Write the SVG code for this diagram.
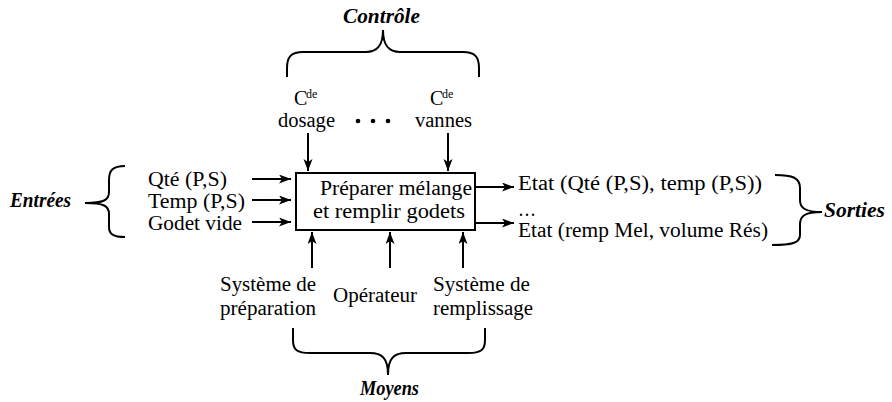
<svg xmlns="http://www.w3.org/2000/svg" width="892" height="402" viewBox="0 0 892 402">
  <defs>
    <style>
      text { font-size: 20px; fill: #000; }
      .lbl { font-weight: bold; font-style: italic; }
      .sup { font-size: 12px; }
      .ln { fill: none; stroke: #000; stroke-width: 2; }
      .arr { fill: none; stroke: #000; stroke-width: 2; marker-end: url(#ah); }
      .box { fill: #fff; stroke: #000; stroke-width: 2; }
    </style>
    <marker id="ah" markerUnits="userSpaceOnUse" markerWidth="13" markerHeight="10" refX="12" refY="4.5" orient="auto">
      <path d="M0,0 L12,4.5 L0,9 L3,4.5 z" fill="#000"/>
    </marker>
  </defs>
  <rect width="892" height="402" fill="#fff"/>
  <g font-family="Liberation Serif, Times New Roman, Times, serif">

  <g id="connectors">
    <line class="arr" x1="308" y1="133" x2="308" y2="171"/>
    <line class="arr" x1="448" y1="133" x2="448" y2="171"/>
    <line class="arr" x1="252" y1="179" x2="291" y2="179"/>
    <line class="arr" x1="252" y1="200" x2="291" y2="200"/>
    <line class="arr" x1="252" y1="222" x2="291" y2="222"/>
    <line class="arr" x1="475" y1="187" x2="514" y2="187"/>
    <line class="arr" x1="475" y1="223" x2="514" y2="223"/>
    <line class="arr" x1="312" y1="268" x2="312" y2="232"/>
    <line class="arr" x1="390" y1="268" x2="390" y2="232"/>
    <line class="arr" x1="463" y1="268" x2="463" y2="232"/>
  </g>

  <g id="process">
    <rect class="box" x="296" y="173" width="179" height="57"/>
    <text x="320" y="195" textLength="152" lengthAdjust="spacingAndGlyphs">Préparer mélange</text>
    <text x="313" y="218" textLength="152" lengthAdjust="spacingAndGlyphs">et remplir godets</text>
  </g>

  <g id="controle">
    <path class="ln" d="M287,77 L287,68 C287,57 291,52 303,52 L366,52 C377,52 383,46 383,30 C383,46 389,52 400,52 L463,52 C475,52 479,57 479,68 L479,77"/>
    <text class="lbl" x="343" y="23" textLength="77" lengthAdjust="spacingAndGlyphs">Contrôle</text>
  </g>

  <g id="cde-dosage">
    <text x="294" y="105">C</text>
    <text class="sup" x="306" y="98">de</text>
    <text x="278" y="127" textLength="57" lengthAdjust="spacingAndGlyphs">dosage</text>
  </g>

  <g id="ellipsis">
    <circle cx="358" cy="121" r="2.3"/>
    <circle cx="373" cy="121" r="2.3"/>
    <circle cx="388" cy="121" r="2.3"/>
  </g>

  <g id="cde-vannes">
    <text x="430" y="105">C</text>
    <text class="sup" x="442" y="98">de</text>
    <text x="415" y="127" textLength="57" lengthAdjust="spacingAndGlyphs">vannes</text>
  </g>

  <g id="entrees">
    <path class="ln" d="M125,166 C113,166 109,170 109,180 L109,192 C109,200 104,203 85,203 C104,203 109,206 109,214 L109,227 C109,234 113,237 125,237"/>
    <text class="lbl" x="10" y="207" textLength="61" lengthAdjust="spacingAndGlyphs">Entrées</text>
  </g>

  <g id="inputs">
    <text x="148" y="186" textLength="79" lengthAdjust="spacingAndGlyphs">Qté (P,S)</text>
    <text x="148" y="208" textLength="97" lengthAdjust="spacingAndGlyphs">Temp (P,S)</text>
    <text x="148" y="230" textLength="94" lengthAdjust="spacingAndGlyphs">Godet vide</text>
  </g>

  <g id="outputs">
    <text x="518" y="190" textLength="244" lengthAdjust="spacingAndGlyphs">Etat (Qté (P,S), temp (P,S))</text>
    <text x="518" y="216" textLength="18" lengthAdjust="spacingAndGlyphs">…</text>
    <text x="518" y="237" textLength="250" lengthAdjust="spacingAndGlyphs">Etat (remp Mel, volume Rés)</text>
  </g>

  <g id="sorties">
    <path class="ln" d="M775,175 C793,175 800,178 800,188 L800,200 C800,208 805,212 822,212 C805,212 800,216 800,224 L800,235 C800,243 792,245 772,245"/>
    <text class="lbl" x="824" y="217" textLength="61" lengthAdjust="spacingAndGlyphs">Sorties</text>
  </g>

  <g id="sys-preparation">
    <text x="220" y="291" textLength="96" lengthAdjust="spacingAndGlyphs">Système de</text>
    <text x="220" y="315" textLength="96" lengthAdjust="spacingAndGlyphs">préparation</text>
  </g>

  <g id="operateur">
    <text x="333" y="302" textLength="84" lengthAdjust="spacingAndGlyphs">Opérateur</text>
  </g>

  <g id="sys-remplissage">
    <text x="433" y="291" textLength="97" lengthAdjust="spacingAndGlyphs">Système de</text>
    <text x="433" y="315" textLength="100" lengthAdjust="spacingAndGlyphs">remplissage</text>
  </g>

  <g id="moyens">
    <path class="ln" d="M293,328 L293,340 C293,350 297,353 310,353 L370,353 C382,353 388,358 388,375 C388,358 394,353 406,353 L468,353 C481,353 485,350 485,340 L485,328"/>
    <text class="lbl" x="360" y="395" textLength="59" lengthAdjust="spacingAndGlyphs">Moyens</text>
  </g>
  </g>
</svg>
